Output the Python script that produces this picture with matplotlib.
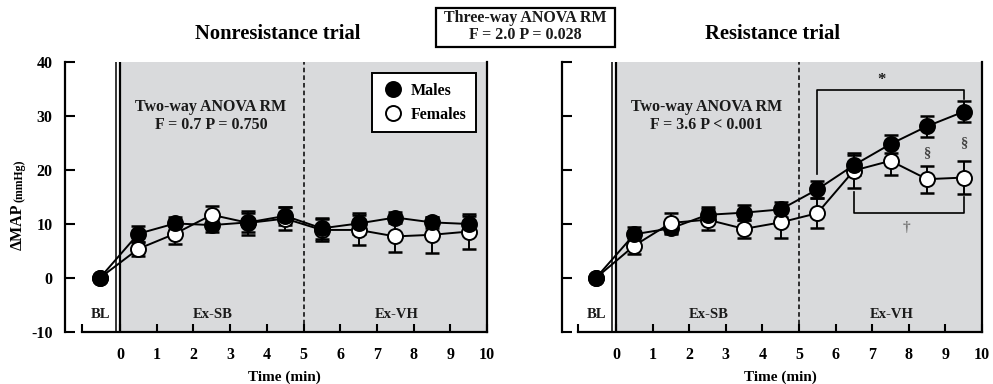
import matplotlib
matplotlib.use("Agg")
import matplotlib.pyplot as plt
from matplotlib.lines import Line2D
from matplotlib.patches import Rectangle

plt.rcParams['font.family'] = ['Liberation Serif', 'DejaVu Serif']
plt.rcParams['font.weight'] = 'bold'

# ---------------- data ----------------
bl_time = -0.55
times = [0.5, 1.5, 2.5, 3.5, 4.5, 5.5, 6.5, 7.5, 8.5, 9.5]

non_males = [8.2, 10.1, 9.8, 10.3, 11.5, 9.2, 10.1, 11.2, 10.3, 10.0]
non_males_err = [1.5, 1.2, 1.2, 1.8, 1.7, 1.9, 2.0, 1.0, 1.0, 1.4]
non_females = [5.4, 8.2, 11.7, 10.2, 11.0, 8.9, 8.9, 7.7, 8.0, 8.6]
non_females_err = [1.3, 1.9, 1.7, 2.2, 2.1, 2.0, 2.7, 2.8, 3.3, 3.2]

res_males = [8.1, 9.2, 11.7, 12.1, 12.7, 16.4, 20.9, 24.8, 28.1, 30.8]
res_males_err = [1.3, 1.1, 1.5, 1.4, 1.4, 1.5, 1.8, 1.6, 1.9, 2.0]
res_females = [6.0, 10.2, 10.8, 9.1, 10.3, 12.0, 19.9, 21.7, 18.3, 18.6]
res_females_err = [1.5, 1.8, 1.9, 1.7, 2.8, 2.8, 3.3, 2.6, 2.5, 3.1]

x_ticks = [0, 1, 2, 3, 4, 5, 6, 7, 8, 9, 10]
y_ticks = [-10, 0, 10, 20, 30, 40]
phase_labels = ['BL', 'Ex-SB', 'Ex-VH']
phase_pos = [-0.52, 2.53, 7.54]

star_bracket_x = [5.5, 5.5, 9.5, 9.5]
star_bracket_y = [19.2, 34.9, 34.9, 33.2]
dagger_bracket_x = [6.5, 6.5, 9.5, 9.5]
dagger_bracket_y = [15.9, 12.1, 12.1, 15.0]

# ---------------- figure ----------------
W, H = 993, 384
fig = plt.figure(figsize=(W / 100, H / 100), dpi=100)
GRAY = '#d9dadc'
TXT = '#1a1a1a'
px2pt = 0.72


def panel(left_px, right_px, zero_px, spine_px, males, m_err, females, f_err,
          stats_text, ylabels):
    x0 = left_px / W
    w = (right_px - left_px) / W
    y0 = 1 - 332 / H
    h = 270 / H
    ax = fig.add_axes([x0, y0, w, h])
    scale = (right_px - zero_px) / 10.0
    xmin = (left_px - zero_px) / scale
    ax.set_xlim(xmin, 10)
    ax.set_ylim(-10, 40)
    ax.set_facecolor('none')
    ax.axvspan(0, 10, color=GRAY, lw=0, zorder=0)

    ax.spines['top'].set_visible(False)
    for s in ['left', 'bottom', 'right']:
        ax.spines[s].set_linewidth(1.6)
    ax.spines['left'].set_position(('outward', (left_px - spine_px) * px2pt))

    # double line separating BL and exercise
    ax.axvline(-4 / scale, color='k', lw=1.1, zorder=1)
    ax.axvline(0, color='k', lw=1.6, zorder=1)
    ax.axvline(5, color='k', lw=1.1, ls=(0, (3, 2)), zorder=1)

    ax.set_xticks(x_ticks)
    ax.set_xticklabels([str(v) for v in x_ticks])
    ax.set_xticks([xmin], minor=True)
    ax.tick_params(axis='x', which='both', direction='in', length=5.8,
                   width=1.5, pad=10.5, labelsize=11.5)
    ax.set_yticks(y_ticks)
    if ylabels:
        ax.set_yticklabels([str(v) for v in y_ticks])
    else:
        ax.set_yticklabels([])
    ax.tick_params(axis='y', direction='in', length=7.2, width=1.5, pad=9.0,
                   labelsize=11.5)
    for lab in ax.get_xticklabels() + ax.get_yticklabels():
        lab.set_fontweight('bold')

    xs = [bl_time] + times
    ym = [0] + males
    yf = [0] + females

    ax.plot(xs, yf, color='k', lw=1.4, zorder=2)
    ax.plot(xs, ym, color='k', lw=1.4, zorder=2)
    ax.errorbar(times, females, yerr=f_err, fmt='none', ecolor='k',
                elinewidth=1.4, capsize=4.8, capthick=1.8, zorder=3)
    ax.errorbar(times, males, yerr=m_err, fmt='none', ecolor='k',
                elinewidth=1.4, capsize=4.8, capthick=1.8, zorder=3)
    for xi, a, b in zip(xs, ym, yf):
        pts = [(b, 'white'), (a, 'black')]
        if b > a:
            pts = [(a, 'black'), (b, 'white')]
        for val, fc in pts:
            ax.plot([xi], [val], 'o', ms=10.8, mfc=fc, mec='k', mew=1.4,
                    zorder=4)

    for lab, xp in zip(phase_labels, phase_pos):
        ax.text(xp, -6.8, lab, ha='center', va='center', fontsize=10.5,
                fontweight='bold', color=TXT)
    ax.text(2.48, 30.0, stats_text, ha='center', va='center', fontsize=11.5,
            fontweight='bold', color=TXT, linespacing=1.15)
    ax.text(0.5, -0.167, 'Time (min)', transform=ax.transAxes, ha='center',
            va='center', fontsize=11, fontweight='bold')
    return ax


ax1 = panel(82, 487, 120, 65, non_males, non_males_err, non_females,
            non_females_err, 'Two-way ANOVA RM\nF = 0.7 P = 0.750', True)
ax2 = panel(578, 982, 616, 562, res_males, res_males_err, res_females,
            res_females_err, 'Two-way ANOVA RM\nF = 3.6 P < 0.001', False)

# legend
handles = [Line2D([], [], ls='none', marker='o', ms=10.8, mfc='black', mec='k', mew=1.4),
           Line2D([], [], ls='none', marker='o', ms=10.8, mfc='white', mec='k', mew=1.4)]
leg = ax1.legend(handles, ['Males', 'Females'], loc='upper right',
                 bbox_to_anchor=(0.973, 0.959), borderaxespad=0, frameon=True,
                 fancybox=False, edgecolor='k', framealpha=1, borderpad=0.6,
                 labelspacing=0.5, handlelength=1.5, handletextpad=0.35,
                 prop={'family': 'Liberation Serif', 'weight': 'bold', 'size': 11.5})
leg.get_frame().set_linewidth(1.4)
leg.set_zorder(6)

# significance annotations (resistance trial)
ax2.plot(star_bracket_x, star_bracket_y, color='k', lw=1.2, zorder=3)
ax2.plot(dagger_bracket_x, dagger_bracket_y, color='k', lw=1.2, zorder=3)
ax2.text(7.25, 36.6, '*', ha='center', va='center', fontsize=12,
         fontweight='bold', color=TXT)
ax2.text(7.94, 9.3, '†', ha='center', va='center', fontsize=11,
         color='#777777')
ax2.text(8.5, 23.2, '§', ha='center', va='center', fontsize=10.5,
         fontweight='bold', color='#444444')
ax2.text(9.5, 25.0, '§', ha='center', va='center', fontsize=10.5,
         fontweight='bold', color='#444444')

# titles
fig.text(278 / W, 1 - 34 / H, 'Nonresistance trial', ha='center', va='center',
         fontsize=14.8, fontweight='bold')
fig.text(773 / W, 1 - 34 / H, 'Resistance trial', ha='center', va='center',
         fontsize=14.8, fontweight='bold')

# three-way box
fig.patches.append(Rectangle((436 / W, 1 - 46.7 / H), 179 / W, 38.4 / H,
                             transform=fig.transFigure, facecolor='white',
                             edgecolor='k', lw=1.6))
fig.text(525.5 / W, 1 - 26.5 / H, 'Three-way ANOVA RM\nF = 2.0 P = 0.028',
         ha='center', va='center', fontsize=11.5, fontweight='bold',
         linespacing=1.05, color=TXT)

# y label
fig.text(22 / W, 1 - 250 / H, 'ΔMAP', rotation=90, rotation_mode='anchor',
         ha='left', va='baseline', fontsize=11.5, fontweight='bold')
fig.text(22 / W, 1 - 202 / H, '(mmHg)', rotation=90, rotation_mode='anchor',
         ha='left', va='baseline', fontsize=8.5, fontweight='bold')

fig.savefig('out.png', dpi=100)
